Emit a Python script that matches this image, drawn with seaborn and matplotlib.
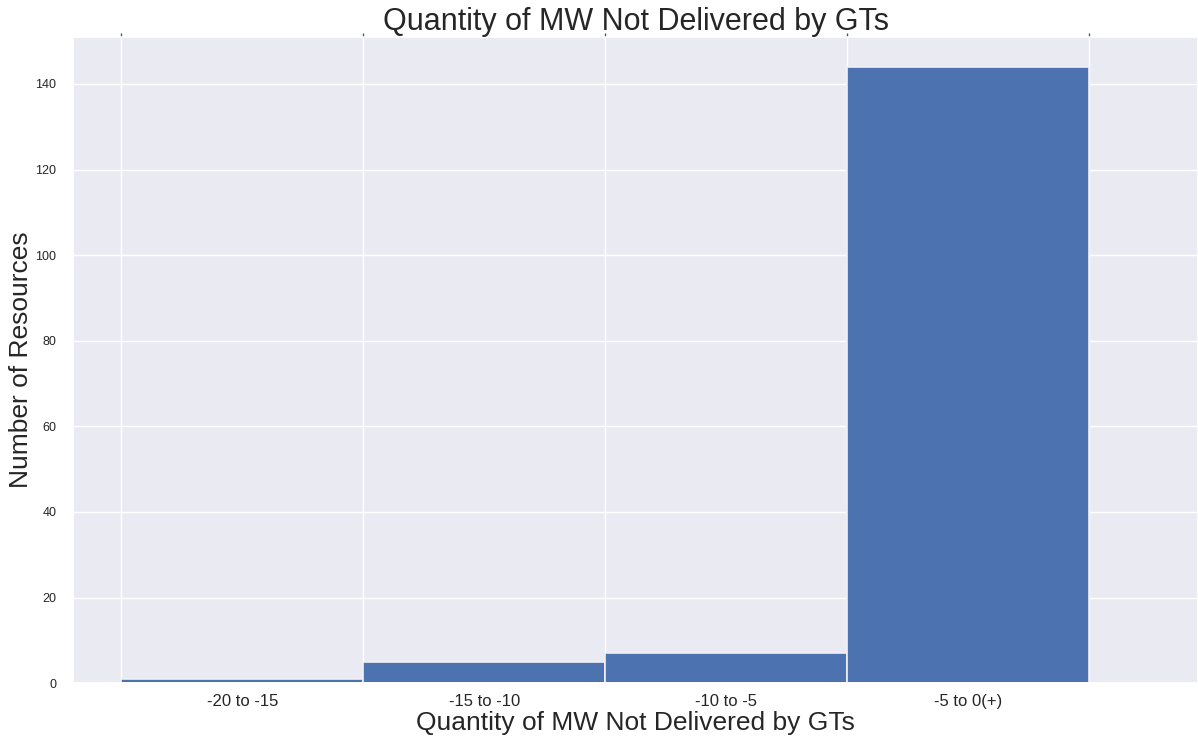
import numpy as np
import matplotlib
matplotlib.use('Agg')
import matplotlib.pyplot as plt
import seaborn as sns

# bins of MW not delivered, and counts of resources
bin_labels = ['-20 to -15', '-15 to -10', '-10 to -5', '-5 to 0(+)']
bin_edges = [0, 1, 2, 3, 4]
counts = [1, 5, 7, 144]

sns.set_theme(style='darkgrid')
plt.rcParams['font.family'] = ['Liberation Sans', 'DejaVu Sans']

fig = plt.figure(figsize=(11.98, 7.37), dpi=100)
ax = fig.add_axes([0.061, 0.073, 0.939, 0.877])

sns.histplot(x=bin_edges[:-1], weights=counts, bins=bin_edges, ax=ax,
             color='#4C72B0', alpha=1, edgecolor='#f0f0f5', linewidth=1.2)

ax.set_xlim(-0.2, 4.45)
ax.set_ylim(0, 151)
ax.set_yticks(np.arange(0, 141, 20))
ax.tick_params(axis='y', labelsize=9, colors='#262626', length=0, pad=12)

# gridlines at bin edges with small marks on top, labels at bin centres
ax.set_xticks(bin_edges)
ax.set_xticklabels([])
ax.tick_params(axis='x', which='major', top=True, bottom=False, direction='out',
               length=3, width=1, colors='#555555')
ax.set_xticks([b + 0.5 for b in bin_edges[:-1]], minor=True)
ax.set_xticklabels(bin_labels, minor=True, fontsize=12, color='#262626')
ax.tick_params(axis='x', which='minor', length=0, pad=8)
ax.grid(which='minor', visible=False)

ax.set_title('Quantity of MW Not Delivered by GTs', fontsize=22, pad=5, color='#262626')
ax.set_xlabel('Quantity of MW Not Delivered by GTs', fontsize=19, labelpad=1, color='#262626')
ax.set_ylabel('Number of Resources', fontsize=19, labelpad=2, color='#262626')

fig.savefig('out.png', dpi=100)
